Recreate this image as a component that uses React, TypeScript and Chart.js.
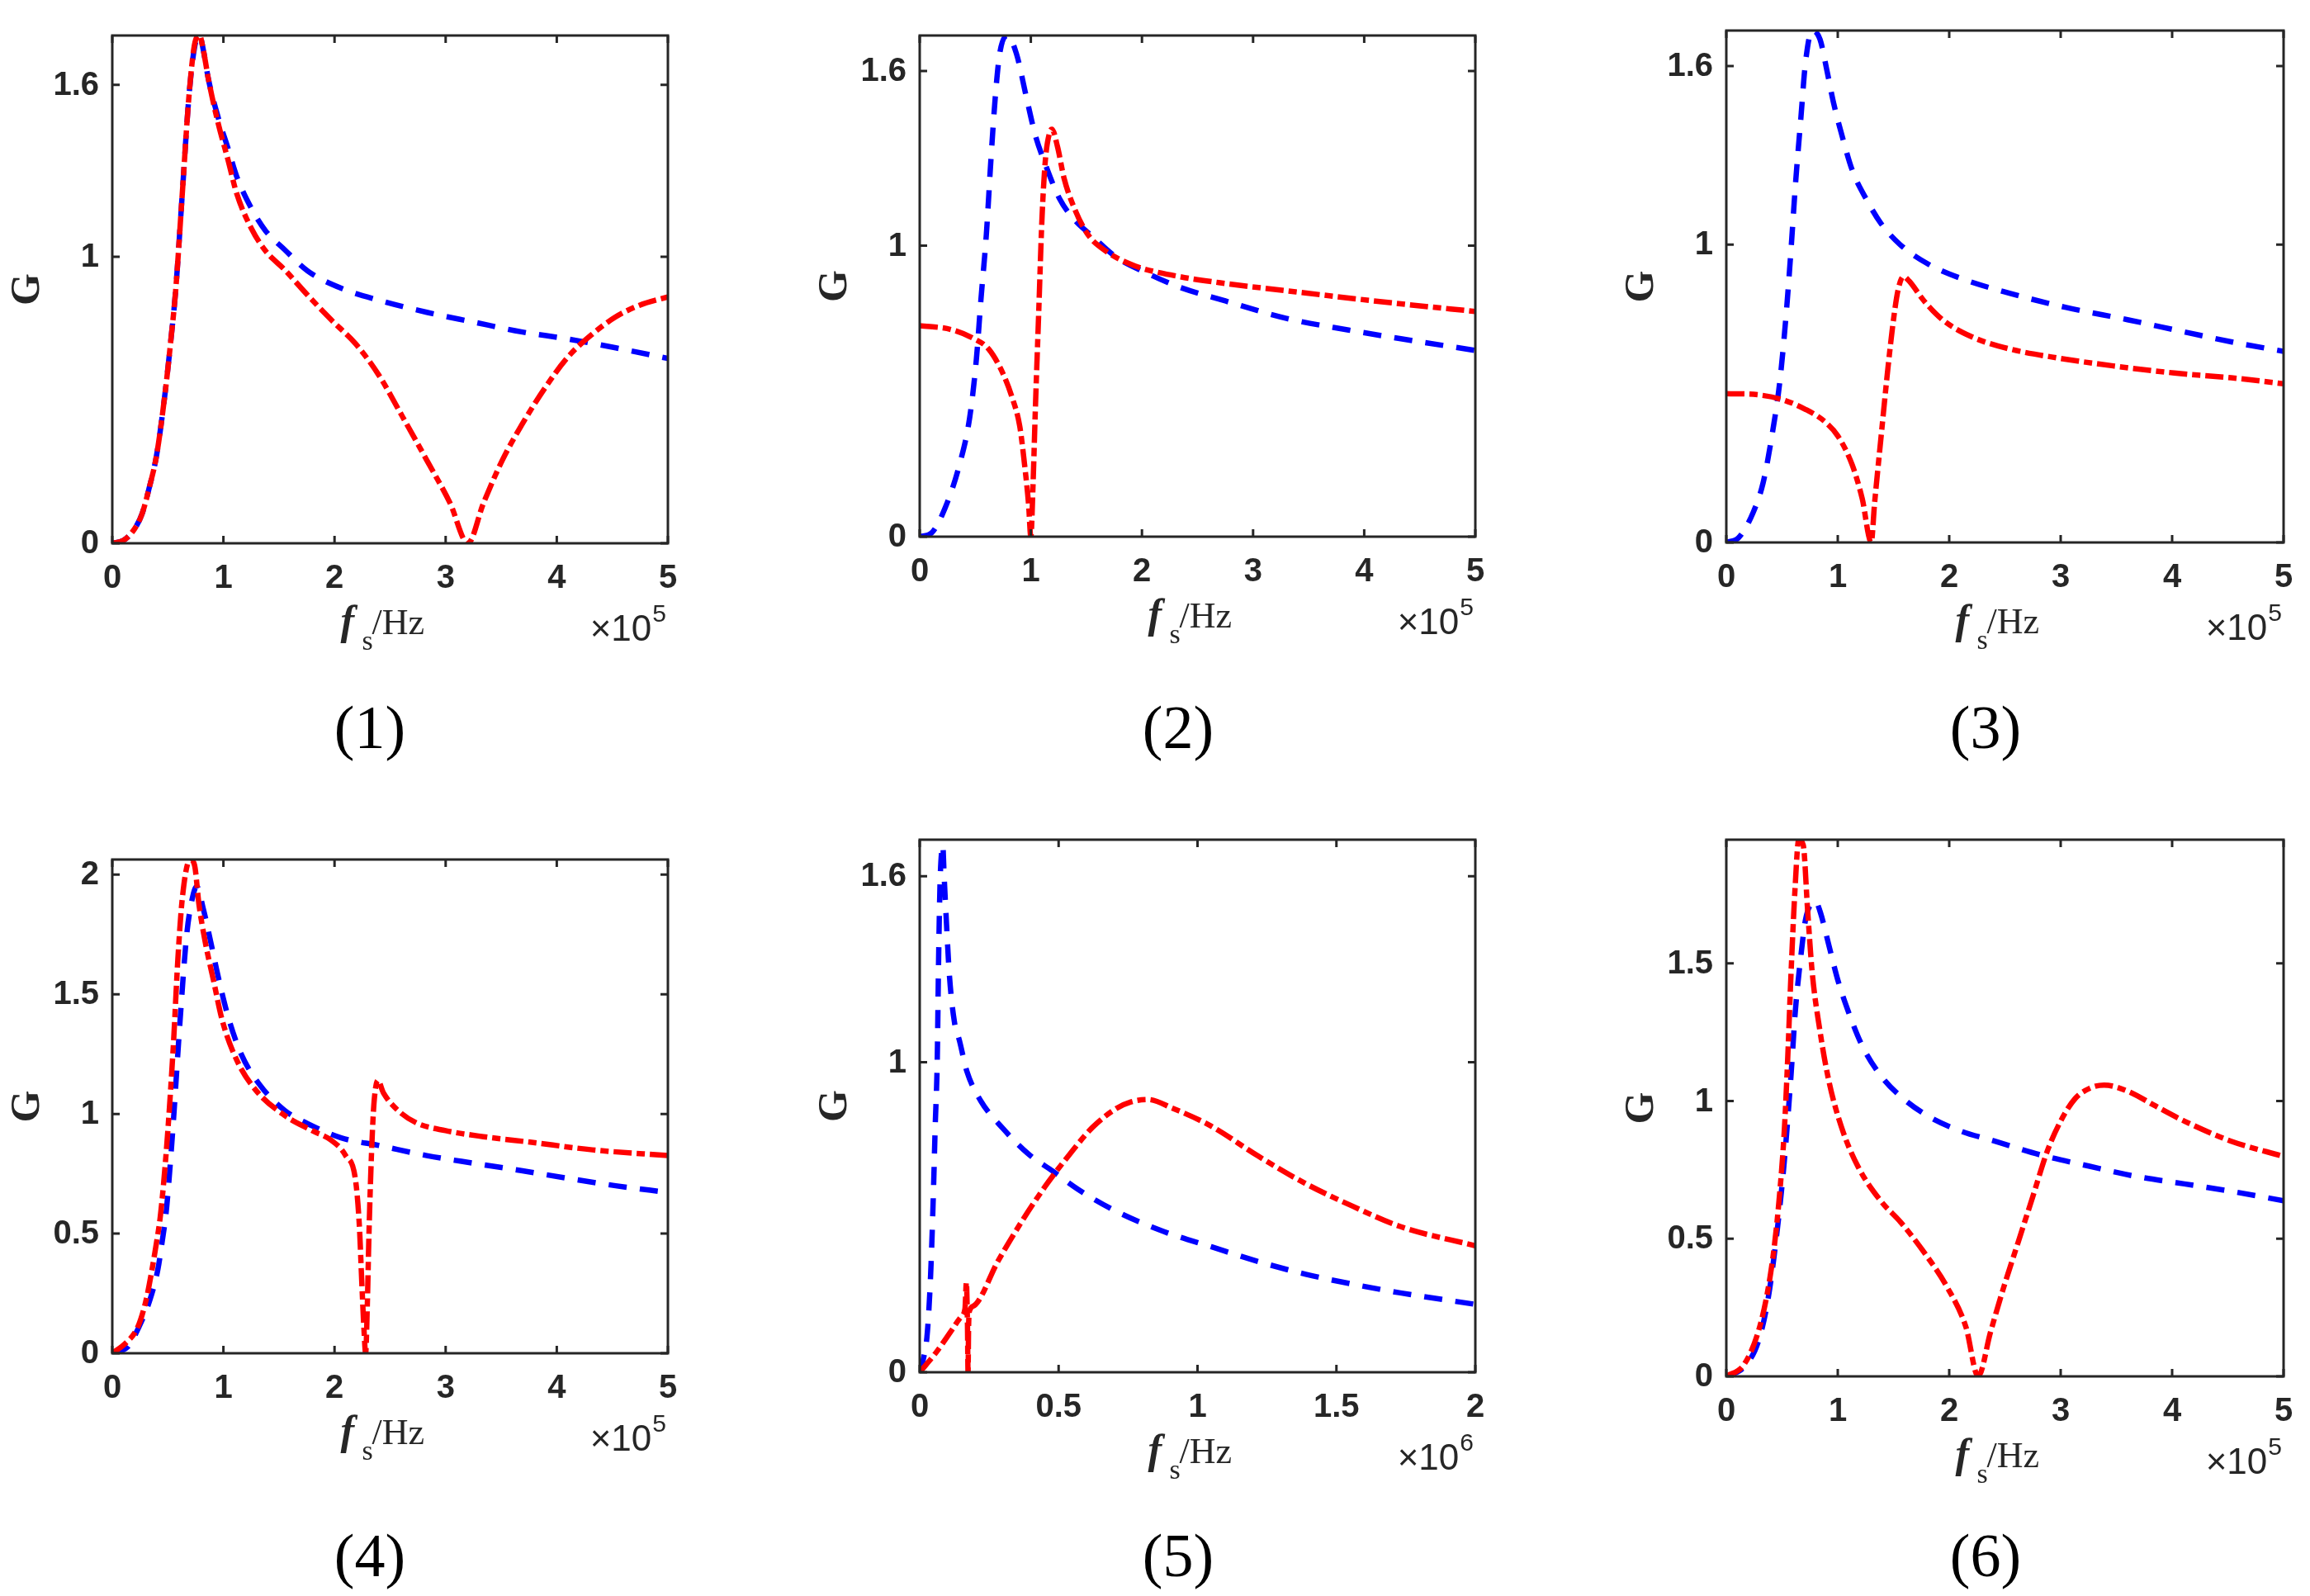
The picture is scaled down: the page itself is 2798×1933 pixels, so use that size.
import React, { useEffect, useRef } from "react";
import { Chart, registerables } from "chart.js";
Chart.register(...registerables);

const AXIS_COLOR = "#262626";
const BLUE = "#0000ff";
const RED = "#ff0000";
const SANS = "'Liberation Sans', Arial, Helvetica, sans-serif";
const SERIF = "'Liberation Serif', 'Times New Roman', serif";

// ---- tick values / labels ----
const xTicks5 = [0, 1, 2, 3, 4, 5];
const xTickLabels5 = ["0", "1", "2", "3", "4", "5"];
const xTicks2 = [0, 0.5, 1, 1.5, 2];
const xTickLabels2 = ["0", "0.5", "1", "1.5", "2"];
const yTicksA = [0, 1, 1.6];
const yTickLabelsA = ["0", "1", "1.6"];
const yTicksB = [0, 0.5, 1, 1.5, 2];
const yTickLabelsB = ["0", "0.5", "1", "1.5", "2"];
const yTicksC = [0, 0.5, 1, 1.5];
const yTickLabelsC = ["0", "0.5", "1", "1.5"];

// ---- panel (1) ----
const p1BlueX = [0, 0.1, 0.2, 0.27, 0.33, 0.4, 0.48, 0.53, 0.57, 0.63, 0.69, 0.74, 0.785, 0.82, 0.865, 0.95, 1.04, 1.12, 1.25, 1.38, 1.55, 1.76, 2.06, 2.4, 2.83, 3.25, 3.68, 4.1, 4.53, 5];
const p1BlueY = [0, 0.01, 0.05, 0.105, 0.19, 0.31, 0.54, 0.72, 0.88, 1.22, 1.56, 1.73, 1.772, 1.72, 1.62, 1.49, 1.38, 1.28, 1.17, 1.09, 1.025, 0.95, 0.89, 0.848, 0.806, 0.772, 0.738, 0.713, 0.682, 0.645];
const p1RedX = [0, 0.1, 0.2, 0.27, 0.33, 0.4, 0.48, 0.53, 0.57, 0.63, 0.69, 0.74, 0.785, 0.82, 0.865, 0.95, 1.04, 1.12, 1.25, 1.38, 1.55, 1.76, 1.97, 2.19, 2.4, 2.61, 2.83, 3.04, 3.2, 3.34, 3.51, 3.68, 3.89, 4.1, 4.32, 4.53, 4.74, 5];
const p1RedY = [0, 0.01, 0.05, 0.105, 0.19, 0.31, 0.54, 0.72, 0.88, 1.22, 1.56, 1.74, 1.772, 1.72, 1.62, 1.47, 1.34, 1.22, 1.1, 1.02, 0.955, 0.865, 0.78, 0.696, 0.586, 0.443, 0.29, 0.14, 0, 0.14, 0.29, 0.41, 0.54, 0.65, 0.73, 0.79, 0.83, 0.86];

// ---- panel (2) ----
const p2BlueX = [0, 0.107, 0.23, 0.36, 0.45, 0.51, 0.55, 0.6, 0.64, 0.68, 0.72, 0.79, 0.87, 0.96, 1.04, 1.13, 1.26, 1.39, 1.56, 1.77, 2.02, 2.32, 2.75, 3.3, 3.86, 4.33, 5];
const p2BlueY = [0, 0.013, 0.1, 0.25, 0.41, 0.61, 0.81, 1.04, 1.29, 1.51, 1.66, 1.722, 1.66, 1.51, 1.38, 1.28, 1.16, 1.09, 1.03, 0.96, 0.91, 0.86, 0.81, 0.75, 0.71, 0.68, 0.64];
const p2RedX = [0, 0.28, 0.49, 0.62, 0.75, 0.83, 0.9, 0.94, 0.98, 1.0, 1.02, 1.04, 1.07, 1.1, 1.13, 1.17, 1.19, 1.24, 1.3, 1.39, 1.51, 1.68, 1.94, 2.32, 2.75, 3.3, 3.86, 4.33, 5];
const p2RedY = [0.725, 0.712, 0.68, 0.645, 0.56, 0.48, 0.38, 0.26, 0.11, 0, 0.18, 0.43, 0.76, 1.09, 1.29, 1.39, 1.4, 1.34, 1.23, 1.13, 1.04, 0.98, 0.93, 0.895, 0.87, 0.845, 0.82, 0.8, 0.774];

// ---- panel (3) ----
const p3BlueX = [0, 0.11, 0.24, 0.33, 0.41, 0.48, 0.54, 0.58, 0.62, 0.67, 0.71, 0.77, 0.84, 0.9, 0.96, 1.05, 1.13, 1.26, 1.39, 1.56, 1.81, 2.11, 2.54, 3.05, 3.6, 4.11, 4.62, 5];
const p3BlueY = [0, 0.016, 0.1, 0.2, 0.36, 0.54, 0.78, 0.98, 1.2, 1.43, 1.61, 1.719, 1.69, 1.59, 1.48, 1.35, 1.25, 1.15, 1.07, 1.0, 0.935, 0.886, 0.837, 0.789, 0.748, 0.707, 0.667, 0.642];
const p3RedX = [0, 0.28, 0.5, 0.71, 0.88, 1.0, 1.13, 1.22, 1.3, 1.33, 1.39, 1.45, 1.5, 1.54, 1.59, 1.64, 1.77, 1.94, 2.2, 2.54, 3.0, 3.47, 4.02, 4.53, 5];
const p3RedY = [0.5, 0.496, 0.48, 0.447, 0.407, 0.358, 0.26, 0.146, 0, 0.13, 0.36, 0.585, 0.748, 0.846, 0.893, 0.878, 0.813, 0.748, 0.691, 0.65, 0.618, 0.593, 0.569, 0.553, 0.533];

// ---- panel (4) ----
const p4BlueX = [0, 0.14, 0.24, 0.34, 0.41, 0.45, 0.485, 0.52, 0.55, 0.61, 0.67, 0.72, 0.76, 0.82, 0.89, 0.95, 1.04, 1.16, 1.33, 1.55, 1.8, 2.06, 2.4, 2.83, 3.25, 3.68, 4.1, 4.53, 5];
const p4BlueY = [0, 0.027, 0.11, 0.225, 0.35, 0.47, 0.59, 0.78, 0.97, 1.39, 1.75, 1.9, 1.95, 1.855, 1.71, 1.58, 1.41, 1.25, 1.12, 1.015, 0.95, 0.9, 0.868, 0.826, 0.794, 0.763, 0.731, 0.7, 0.672];
const p4RedX = [0, 0.12, 0.23, 0.3, 0.35, 0.39, 0.43, 0.46, 0.5, 0.55, 0.59, 0.63, 0.7, 0.74, 0.78, 0.84, 0.91, 0.99, 1.12, 1.29, 1.55, 1.8, 1.97, 2.1, 2.19, 2.225, 2.245, 2.265, 2.28, 2.295, 2.31, 2.33, 2.35, 2.37, 2.39, 2.44, 2.57, 2.74, 3.0, 3.34, 3.76, 4.32, 5];
const p4RedY = [0, 0.042, 0.11, 0.214, 0.33, 0.44, 0.563, 0.7, 0.93, 1.29, 1.645, 1.9, 2.063, 2.04, 1.876, 1.71, 1.56, 1.39, 1.225, 1.1, 0.994, 0.93, 0.89, 0.826, 0.72, 0.52, 0.3, 0.1, 0, 0.2, 0.5, 0.8, 1.01, 1.11, 1.14, 1.088, 1.015, 0.962, 0.93, 0.905, 0.882, 0.85, 0.826];

// ---- panel (5) ----
const p5BlueX = [0, 0.015, 0.026, 0.036, 0.043, 0.05, 0.056, 0.063, 0.068, 0.073, 0.08, 0.083, 0.088, 0.094, 0.107, 0.125, 0.143, 0.17, 0.22, 0.3, 0.39, 0.48, 0.57, 0.708, 0.878, 1.049, 1.219, 1.39, 1.56, 1.73, 2.0];
const p5BlueY = [0, 0.05, 0.113, 0.25, 0.4, 0.6, 0.8, 1.0, 1.33, 1.57, 1.69, 1.7, 1.6, 1.49, 1.28, 1.13, 1.07, 0.97, 0.875, 0.786, 0.705, 0.648, 0.59, 0.519, 0.454, 0.405, 0.357, 0.316, 0.284, 0.256, 0.219];
const p5RedX = [0, 0.06, 0.111, 0.15, 0.163, 0.168, 0.172, 0.174, 0.176, 0.18, 0.196, 0.281, 0.367, 0.452, 0.537, 0.622, 0.708, 0.76, 0.82, 0.912, 1.049, 1.219, 1.39, 1.56, 1.73, 2.0];
const p5RedY = [0, 0.065, 0.13, 0.18, 0.205, 0.29, 0.15, 0, 0.15, 0.2, 0.215, 0.357, 0.486, 0.6, 0.7, 0.79, 0.851, 0.872, 0.88, 0.851, 0.794, 0.697, 0.608, 0.535, 0.47, 0.408];

// ---- panel (6) ----
const p6BlueX = [0, 0.157, 0.285, 0.37, 0.45, 0.52, 0.58, 0.62, 0.67, 0.71, 0.77, 0.8, 0.84, 0.92, 1.0, 1.09, 1.22, 1.39, 1.56, 1.81, 2.11, 2.41, 2.83, 3.26, 3.68, 4.11, 4.53, 5];
const p6BlueY = [0, 0.033, 0.124, 0.27, 0.507, 0.78, 1.09, 1.33, 1.53, 1.657, 1.72, 1.725, 1.69, 1.566, 1.44, 1.33, 1.2, 1.09, 1.018, 0.945, 0.89, 0.854, 0.803, 0.763, 0.726, 0.699, 0.672, 0.638];
const p6RedX = [0, 0.157, 0.285, 0.37, 0.43, 0.48, 0.52, 0.55, 0.58, 0.616, 0.65, 0.69, 0.73, 0.77, 0.84, 0.92, 1.03, 1.18, 1.39, 1.56, 1.77, 1.98, 2.15, 2.26, 2.37, 2.49, 2.62, 2.75, 2.88, 3.0, 3.13, 3.26, 3.39, 3.6, 3.85, 4.11, 4.53, 5];
const p6RedY = [0, 0.042, 0.16, 0.307, 0.47, 0.67, 0.89, 1.146, 1.456, 1.766, 1.949, 1.93, 1.69, 1.47, 1.255, 1.073, 0.909, 0.763, 0.635, 0.562, 0.453, 0.325, 0.179, 0, 0.16, 0.325, 0.489, 0.653, 0.818, 0.927, 1.009, 1.046, 1.058, 1.036, 0.982, 0.927, 0.854, 0.799];

interface PanelSpec {
  caption: string;
  blueX: number[];
  blueY: number[];
  redX: number[];
  redY: number[];
  xMax: number;
  xTicks: number[];
  xTickLabels: string[];
  yMax: number;
  yTicks: number[];
  yTickLabels: string[];
  exponent: string;
}

const panels: PanelSpec[] = [
  { caption: "(1)", blueX: p1BlueX, blueY: p1BlueY, redX: p1RedX, redY: p1RedY, xMax: 5, xTicks: xTicks5, xTickLabels: xTickLabels5, yMax: 1.772, yTicks: yTicksA, yTickLabels: yTickLabelsA, exponent: "5" },
  { caption: "(2)", blueX: p2BlueX, blueY: p2BlueY, redX: p2RedX, redY: p2RedY, xMax: 5, xTicks: xTicks5, xTickLabels: xTickLabels5, yMax: 1.722, yTicks: yTicksA, yTickLabels: yTickLabelsA, exponent: "5" },
  { caption: "(3)", blueX: p3BlueX, blueY: p3BlueY, redX: p3RedX, redY: p3RedY, xMax: 5, xTicks: xTicks5, xTickLabels: xTickLabels5, yMax: 1.719, yTicks: yTicksA, yTickLabels: yTickLabelsA, exponent: "5" },
  { caption: "(4)", blueX: p4BlueX, blueY: p4BlueY, redX: p4RedX, redY: p4RedY, xMax: 5, xTicks: xTicks5, xTickLabels: xTickLabels5, yMax: 2.063, yTicks: yTicksB, yTickLabels: yTickLabelsB, exponent: "5" },
  { caption: "(5)", blueX: p5BlueX, blueY: p5BlueY, redX: p5RedX, redY: p5RedY, xMax: 2, xTicks: xTicks2, xTickLabels: xTickLabels2, yMax: 1.718, yTicks: yTicksA, yTickLabels: yTickLabelsA, exponent: "6" },
  { caption: "(6)", blueX: p6BlueX, blueY: p6BlueY, redX: p6RedX, redY: p6RedY, xMax: 5, xTicks: xTicks5, xTickLabels: xTickLabels5, yMax: 1.949, yTicks: yTicksC, yTickLabels: yTickLabelsC, exponent: "5" },
];

// page layout (pixels): canvas cell and plot box for each panel
interface PanelLayout {
  cellX: number; cellY: number; cellW: number; cellH: number;
  L: number; T: number; R: number; B: number;
  captionX: number; captionBase: number;
}

const layouts: PanelLayout[] = [
  { cellX: 0, cellY: 0, cellW: 933, cellH: 966, L: 136, T: 43, R: 809, B: 658, captionX: 448, captionBase: 906 },
  { cellX: 933, cellY: 0, cellW: 933, cellH: 966, L: 1114, T: 43, R: 1787, B: 650, captionX: 1427, captionBase: 906 },
  { cellX: 1866, cellY: 0, cellW: 932, cellH: 966, L: 2091, T: 37, R: 2766, B: 657, captionX: 2405, captionBase: 906 },
  { cellX: 0, cellY: 966, cellW: 933, cellH: 967, L: 136, T: 1041, R: 809, B: 1639, captionX: 448, captionBase: 1909 },
  { cellX: 933, cellY: 966, cellW: 933, cellH: 967, L: 1114, T: 1017, R: 1787, B: 1662, captionX: 1427, captionBase: 1909 },
  { cellX: 1866, cellY: 966, cellW: 932, cellH: 967, L: 2091, T: 1017, R: 2766, B: 1667, captionX: 2405, captionBase: 1909 },
];

const TICK_LEN = 9;

// draws the MATLAB style box, inward ticks and all the texts
const makeAxesPlugin = (spec: PanelSpec, lay: PanelLayout) => ({
  id: "matlabAxes",
  afterDraw(chart: any) {
    const { ctx, chartArea: a, scales } = chart;
    const xs = scales.x;
    const ys = scales.y;
    ctx.save();

    ctx.strokeStyle = AXIS_COLOR;
    ctx.lineWidth = 3;
    ctx.strokeRect(a.left, a.top, a.right - a.left, a.bottom - a.top);
    ctx.beginPath();
    spec.xTicks.forEach((v) => {
      const px = xs.getPixelForValue(v);
      ctx.moveTo(px, a.bottom);
      ctx.lineTo(px, a.bottom - TICK_LEN);
      ctx.moveTo(px, a.top);
      ctx.lineTo(px, a.top + TICK_LEN);
    });
    spec.yTicks.forEach((v) => {
      const py = ys.getPixelForValue(v);
      ctx.moveTo(a.left, py);
      ctx.lineTo(a.left + TICK_LEN, py);
      ctx.moveTo(a.right, py);
      ctx.lineTo(a.right - TICK_LEN, py);
    });
    ctx.stroke();

    // tick labels
    ctx.fillStyle = AXIS_COLOR;
    ctx.font = `bold 40px ${SANS}`;
    ctx.textAlign = "center";
    ctx.textBaseline = "alphabetic";
    spec.xTicks.forEach((v, i) => {
      ctx.fillText(spec.xTickLabels[i], xs.getPixelForValue(v), a.bottom + 54);
    });
    ctx.textAlign = "right";
    ctx.textBaseline = "middle";
    spec.yTicks.forEach((v, i) => {
      ctx.fillText(spec.yTickLabels[i], a.left - 16, ys.getPixelForValue(v) + 1);
    });

    // y label
    ctx.save();
    ctx.translate(a.left - 102, (a.top + a.bottom) / 2);
    ctx.rotate(-Math.PI / 2);
    ctx.textAlign = "center";
    ctx.textBaseline = "middle";
    ctx.font = `bold 50px ${SERIF}`;
    ctx.fillText("G", 0, 0);
    ctx.restore();

    // x label: f_s/Hz
    const cx = (a.left + a.right) / 2;
    const base = a.bottom + 110;
    ctx.textAlign = "left";
    ctx.textBaseline = "alphabetic";
    ctx.font = `italic bold 50px ${SERIF}`;
    ctx.fillText("f", cx - 60, base);
    ctx.font = `34px ${SERIF}`;
    ctx.fillText("s", cx - 34, base + 19);
    ctx.font = `44px ${SERIF}`;
    ctx.fillText("/Hz", cx - 22, base);

    // exponent label ×10^n
    ctx.textAlign = "right";
    ctx.font = `30px ${SANS}`;
    const expRight = a.right - 2;
    ctx.fillText(spec.exponent, expRight, a.bottom + 95);
    const expW = ctx.measureText(spec.exponent).width;
    ctx.font = `44px ${SANS}`;
    ctx.fillText("\u00d710", expRight - expW - 1, a.bottom + 118);

    // caption
    ctx.fillStyle = "#000000";
    ctx.textAlign = "center";
    ctx.font = `74px ${SERIF}`;
    ctx.fillText(spec.caption, lay.captionX - lay.cellX, lay.captionBase - lay.cellY);

    ctx.restore();
  },
});

const toPoints = (xs: number[], ys: number[]) => xs.map((x, i) => ({ x, y: ys[i] }));

const PanelChart: React.FC<{ spec: PanelSpec; lay: PanelLayout }> = ({ spec, lay }) => {
  const canvasRef = useRef<HTMLCanvasElement | null>(null);

  useEffect(() => {
    if (!canvasRef.current) return;
    const chart = new Chart(canvasRef.current, {
      type: "line",
      data: {
        datasets: [
          {
            data: toPoints(spec.redX, spec.redY),
            borderColor: RED,
            borderWidth: 6.5,
            borderDash: [22, 6, 10, 6],
            borderCapStyle: "butt",
            pointRadius: 0,
            fill: false,
            cubicInterpolationMode: "monotone",
            order: 0,
          },
          {
            data: toPoints(spec.blueX, spec.blueY),
            borderColor: BLUE,
            borderWidth: 6.5,
            borderDash: [22, 16],
            borderCapStyle: "butt",
            pointRadius: 0,
            fill: false,
            cubicInterpolationMode: "monotone",
            order: 1,
          },
        ],
      } as any,
      options: {
        animation: false,
        responsive: false,
        devicePixelRatio: 1,
        events: [],
        layout: {
          padding: {
            left: lay.L - lay.cellX,
            top: lay.T - lay.cellY,
            right: lay.cellX + lay.cellW - lay.R,
            bottom: lay.cellY + lay.cellH - lay.B,
          },
        },
        scales: {
          x: { type: "linear", min: 0, max: spec.xMax, display: false },
          y: { type: "linear", min: 0, max: spec.yMax, display: false },
        },
        plugins: {
          legend: { display: false },
          tooltip: { enabled: false },
        },
      } as any,
      plugins: [makeAxesPlugin(spec, lay)],
    });
    return () => {
      chart.destroy();
    };
  }, [spec, lay]);

  return (
    <canvas
      ref={canvasRef}
      width={lay.cellW}
      height={lay.cellH}
      style={{ position: "absolute", left: lay.cellX, top: lay.cellY, width: lay.cellW, height: lay.cellH }}
    />
  );
};

export default function App() {
  return (
    <div style={{ position: "absolute", left: 0, top: 0, width: 2798, height: 1933, background: "#ffffff", overflow: "hidden" }}>
      {panels.map((p, i) => (
        <PanelChart key={p.caption} spec={p} lay={layouts[i]} />
      ))}
    </div>
  );
}
